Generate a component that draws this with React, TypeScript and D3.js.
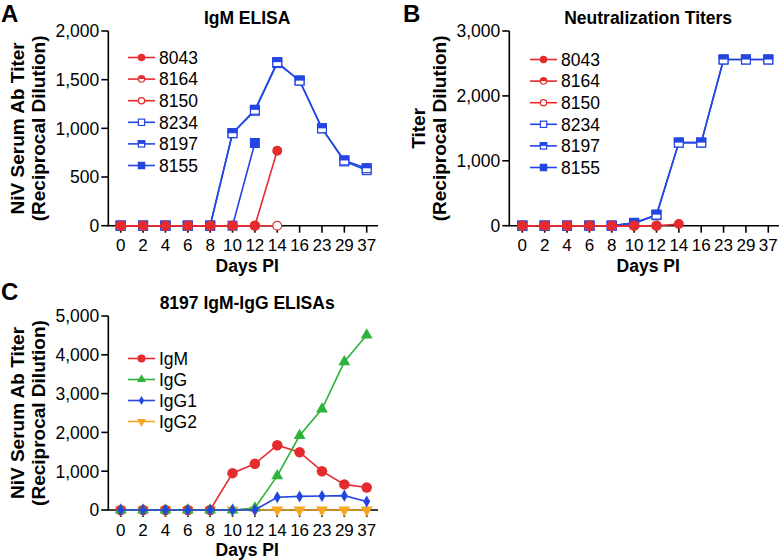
import React from "react";
import * as d3 from "d3";

const days = ["0", "2", "4", "6", "8", "10", "12", "14", "16", "23", "29", "37"];

// Panel A: IgM ELISA
const igm8043 = [0, 0, 0, 0, 0, 0, 0, 770];
const igm8164 = [0, 0, 0, 0, 0, 0, 0];
const igm8150 = [0, 0, 0, 0, 0, 0, 0, 0];
const igm8234 = [0, 0, 0, 0, 0, 950, 1180, 1670, 1490, 1000, 660, 570];
const igm8197 = [0, 0, 0, 0, 0, 950, 1190, 1680, 1490, 1000, 670, 590];
const igm8155 = [0, 0, 0, 0, 0, 0, 850];

// Panel B: Neutralization titers
const neut8043 = [0, 0, 0, 0, 0, 0, 0, 25];
const neut8164 = [0, 0, 0, 0, 0, 0, 0];
const neut8150 = [0, 0, 0, 0, 0, 0, 0];
const neut8234 = [0, 0, 0, 0, 0, 40, 160, 1280, 1280, 2560, 2560, 2560];
const neut8197 = [0, 0, 0, 0, 0, 40, 170, 1280, 1280, 2560, 2560, 2560];
const neut8155 = [0, 0, 0, 0, 0, 45];

// Panel C: 8197 IgM-IgG ELISAs
const cIgM = [0, 0, 0, 0, 0, 950, 1190, 1670, 1490, 1000, 660, 580];
const cIgG = [0, 0, 0, 0, 0, 0, 50, 880, 1920, 2600, 3820, 4510];
const cIgG1 = [0, 0, 0, 0, 0, 0, 0, 330, 350, 360, 370, 220];
const cIgG2 = [0, 0, 0, 0, 0, 0, 0, 0, 0, 0, 0, 0];

const yTicksA = [0, 500, 1000, 1500, 2000];
const yTicksB = [0, 1000, 2000, 3000];
const yTicksC = [0, 1000, 2000, 3000, 4000, 5000];

const RED = "#e62b2e";
const BLUE = "#2446e0";
const GREEN = "#2db23b";
const ORANGE = "#f5a623";
const FONT = "'Liberation Sans', Arial, Helvetica, sans-serif";

type Shape = "circle" | "circleHalf" | "circleOpen" | "square" | "squareHalf" | "squareOpen" | "triUp" | "diamond" | "triDown";

type Series = { name: string; values: number[]; color: string; shape: Shape };

function Marker({ x, y, shape, color, size }: { x: number; y: number; shape: Shape; color: string; size: number }) {
  const r = size / 2;
  const t = `translate(${x},${y})`;
  if (shape === "circle") return <circle transform={t} r={r} fill={color} />;
  if (shape === "circleOpen") return <circle transform={t} r={r - 0.6} fill="white" stroke={color} strokeWidth={1.2} />;
  if (shape === "circleHalf")
    return (
      <g transform={t}>
        <circle r={r - 0.6} fill="white" stroke={color} strokeWidth={1.2} />
        <path d={`M${-r} 0 A${r} ${r} 0 0 1 ${r} 0 Z`} fill={color} />
      </g>
    );
  if (shape === "square") return <rect transform={t} x={-r} y={-r} width={size} height={size} fill={color} />;
  if (shape === "squareOpen")
    return <rect transform={t} x={-r + 0.6} y={-r + 0.6} width={size - 1.2} height={size - 1.2} fill="white" stroke={color} strokeWidth={1.2} />;
  if (shape === "squareHalf")
    return (
      <g transform={t}>
        <rect x={-r + 0.6} y={-r + 0.6} width={size - 1.2} height={size - 1.2} fill="white" stroke={color} strokeWidth={1.2} />
        <rect x={-r} y={-r} width={size} height={r} fill={color} />
      </g>
    );
  let sym: any = d3.symbolTriangle;
  let rot = 0;
  let area = size * size * 0.55;
  if (shape === "triDown") rot = 180;
  if (shape === "diamond") {
    sym = d3.symbolDiamond;
    area = size * size * 0.38;
  }
  const p = d3.symbol().type(sym).size(area)() as string;
  return <path transform={`${t} rotate(${rot})`} d={p} fill={color} />;
}

type PanelProps = {
  letter: string;
  letterX: number;
  letterY: number;
  title: string;
  yLabel: string[];
  yLabelX: number[];
  axisX: number;
  x0: number;
  x1: number;
  axisEnd: number;
  yBottom: number;
  yTop: number;
  yTicks: number[];
  series: Series[];
  legendX: number;
  legendY: number;
  legendStep: number;
  markerSize: number;
  legendMarker: number;
};

function Panel(p: PanelProps) {
  const x = d3.scalePoint<string>().domain(days).range([p.x0, p.x1]);
  const yMax = p.yTicks[p.yTicks.length - 1];
  const y = d3.scaleLinear().domain([0, yMax]).range([p.yBottom, p.yTop]);
  const fmt = d3.format(",");
  const cx = (p.axisX + p.axisEnd) / 2;
  const cy = (p.yBottom + p.yTop) / 2;
  const line = d3
    .line<number>()
    .x((_, i) => x(days[i]) as number)
    .y((v) => y(v));
  return (
    <g>
      <text x={p.letterX} y={p.letterY} fontSize={24} fontWeight="bold" fontFamily={FONT}>
        {p.letter}
      </text>
      <text x={cx + 4} y={p.yTop - 7} fontSize={17.5} fontWeight="bold" textAnchor="middle" fontFamily={FONT}>
        {p.title}
      </text>
      {p.yLabel.map((s, i) => (
        <text
          key={s}
          transform={`translate(${p.yLabelX[i]},${cy}) rotate(-90)`}
          fontSize={19}
          fontWeight="bold"
          textAnchor="middle"
          dominantBaseline="central"
          fontFamily={FONT}
        >
          {s}
        </text>
      ))}
      {/* y axis */}
      <line x1={p.axisX} x2={p.axisX} y1={p.yBottom} y2={p.yTop} stroke="black" strokeWidth={1.6} />
      {p.yTicks.map((t) => (
        <g key={t}>
          <line x1={p.axisX - 7} x2={p.axisX} y1={y(t)} y2={y(t)} stroke="black" strokeWidth={1.6} />
          <text x={p.axisX - 9} y={y(t)} dy="0.36em" fontSize={17.5} textAnchor="end" fontFamily={FONT}>
            {fmt(t)}
          </text>
        </g>
      ))}
      {/* x axis */}
      <line x1={p.axisX - 0.8} x2={p.axisEnd} y1={p.yBottom} y2={p.yBottom} stroke="black" strokeWidth={1.6} />
      {days.map((d) => (
        <g key={d}>
          <line x1={x(d)} x2={x(d)} y1={p.yBottom} y2={p.yBottom + 7} stroke="black" strokeWidth={1.6} />
          <text x={x(d)} y={p.yBottom + 25.5} fontSize={17} textAnchor="middle" fontFamily={FONT}>
            {d}
          </text>
        </g>
      ))}
      <text x={cx + 4} y={p.yBottom + 46} fontSize={17.5} fontWeight="bold" textAnchor="middle" fontFamily={FONT}>
        Days PI
      </text>
      {/* series */}
      {p.series.map((s) => (
        <g key={s.name}>
          <path d={line(s.values) as string} fill="none" stroke={s.color} strokeWidth={1.6} />
          {s.values.map((v, i) => (
            <Marker key={i} x={x(days[i]) as number} y={y(v)} shape={s.shape} color={s.color} size={p.markerSize} />
          ))}
        </g>
      ))}
      {/* legend */}
      {[...p.series]
        .sort((a, b) => (a as any).order - (b as any).order)
        .map((s, i) => {
          const ly = p.legendY + i * p.legendStep;
          return (
            <g key={"lg" + s.name}>
              <line x1={p.legendX} x2={p.legendX + 27} y1={ly} y2={ly} stroke={s.color} strokeWidth={1.6} />
              <Marker x={p.legendX + 13.5} y={ly} shape={s.shape} color={s.color} size={p.legendMarker} />
              <text x={p.legendX + 31} y={ly} dy="0.36em" fontSize={17.5} fontFamily={FONT}>
                {s.name}
              </text>
            </g>
          );
        })}
    </g>
  );
}

function withOrder(list: Series[], drawOrder: string[]): Series[] {
  const ordered = drawOrder.map((n) => list.find((s) => s.name === n) as Series);
  return ordered.map((s) => ({ ...s, order: list.indexOf(s) } as any));
}

export default function App() {
  const seriesA: Series[] = [
    { name: "8043", values: igm8043, color: RED, shape: "circle" },
    { name: "8164", values: igm8164, color: RED, shape: "circleHalf" },
    { name: "8150", values: igm8150, color: RED, shape: "circleOpen" },
    { name: "8234", values: igm8234, color: BLUE, shape: "squareOpen" },
    { name: "8197", values: igm8197, color: BLUE, shape: "squareHalf" },
    { name: "8155", values: igm8155, color: BLUE, shape: "square" },
  ];
  const seriesB: Series[] = [
    { name: "8043", values: neut8043, color: RED, shape: "circle" },
    { name: "8164", values: neut8164, color: RED, shape: "circleHalf" },
    { name: "8150", values: neut8150, color: RED, shape: "circleOpen" },
    { name: "8234", values: neut8234, color: BLUE, shape: "squareOpen" },
    { name: "8197", values: neut8197, color: BLUE, shape: "squareHalf" },
    { name: "8155", values: neut8155, color: BLUE, shape: "square" },
  ];
  const seriesC: Series[] = [
    { name: "IgM", values: cIgM, color: RED, shape: "circle" },
    { name: "IgG", values: cIgG, color: GREEN, shape: "triUp" },
    { name: "IgG1", values: cIgG1, color: BLUE, shape: "diamond" },
    { name: "IgG2", values: cIgG2, color: ORANGE, shape: "triDown" },
  ];
  const orderAB = ["8155", "8234", "8197", "8150", "8164", "8043"];
  return (
    <svg width={781} height={560} style={{ position: "absolute", left: 0, top: 0, background: "white" }}>
      <rect width={781} height={560} fill="white" />
      <Panel
        letter="A"
        letterX={1}
        letterY={22}
        title="IgM ELISA"
        yLabel={["NiV Serum Ab Titer", "(Reciprocal Dilution)"]}
        yLabelX={[17, 38]}
        axisX={108.3}
        x0={120.7}
        x1={366.7}
        axisEnd={378}
        yBottom={225.7}
        yTop={31}
        yTicks={yTicksA}
        series={withOrder(seriesA, orderAB)}
        legendX={128}
        legendY={57.5}
        legendStep={21.6}
        markerSize={10}
        legendMarker={7.5}
      />
      <Panel
        letter="B"
        letterX={403}
        letterY={22}
        title="Neutralization Titers"
        yLabel={["Titer", "(Reciprocal Dilution)"]}
        yLabelX={[418.3, 439]}
        axisX={509.3}
        x0={522.3}
        x1={768.3}
        axisEnd={779}
        yBottom={225.7}
        yTop={31}
        yTicks={yTicksB}
        series={withOrder(seriesB, orderAB)}
        legendX={530}
        legendY={59.5}
        legendStep={21.6}
        markerSize={10}
        legendMarker={7.5}
      />
      <Panel
        letter="C"
        letterX={1}
        letterY={300}
        title="8197 IgM-IgG ELISAs"
        yLabel={["NiV Serum Ab Titer", "(Reciprocal Dilution)"]}
        yLabelX={[17, 38]}
        axisX={108.3}
        x0={120.7}
        x1={366.7}
        axisEnd={378}
        yBottom={510}
        yTop={316}
        yTicks={yTicksC}
        series={withOrder(seriesC, ["IgG2", "IgM", "IgG", "IgG1"])}
        legendX={128}
        legendY={358.5}
        legendStep={21}
        markerSize={10.5}
        legendMarker={8}
      />
    </svg>
  );
}
